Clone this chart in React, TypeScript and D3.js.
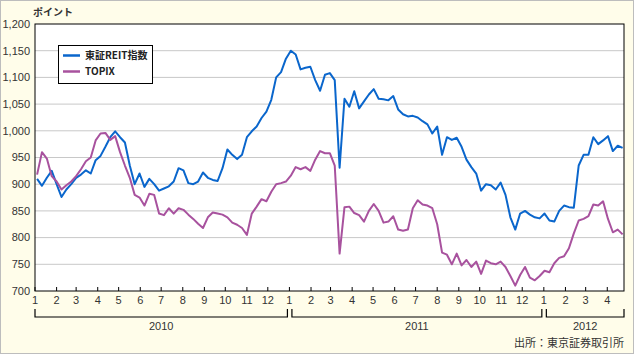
import React from 'react';
import * as d3 from 'd3';

// weekly (Monday) readings, Jan 2010 - Apr 2012
const reitValues = [
  910, 897, 912, 925, 900, 876, 890, 900, 912, 918,
  926, 920, 945, 953, 970, 988, 999, 988, 978, 935,
  900, 920, 895, 910, 900, 888, 892, 896, 905, 930,
  926, 902, 900, 905, 922, 912, 908, 906, 930, 965,
  955, 947, 955, 988, 999, 1008, 1024, 1036, 1058, 1100,
  1110, 1135, 1150, 1143, 1115, 1118, 1120, 1095, 1075, 1105,
  1108, 1095, 931, 1060, 1045, 1074, 1042, 1055, 1068, 1078,
  1060, 1059, 1057, 1065, 1040, 1031, 1027, 1028, 1025, 1018,
  1012, 995, 1008, 955, 988, 983, 987, 970, 946, 932,
  920, 888, 900, 898, 890, 903, 880, 838, 815, 845,
  850, 843, 838, 836, 845, 832, 830, 850, 860, 857,
  856, 935, 955, 955, 988, 975, 982, 990, 962, 972,
  968,
];

const topixValues = [
  918, 960, 948, 915, 905, 890, 898, 905, 915, 928,
  943, 950, 982, 995, 996, 983, 990, 960, 935, 912,
  880, 875, 860, 882, 880, 845, 842, 855, 845, 855,
  852, 843, 835, 826, 818, 838, 847, 845, 843, 838,
  828, 824, 818, 805, 845, 858, 872, 868, 886, 900,
  902, 905, 916, 932, 928, 932, 925, 946, 962, 958,
  958, 935, 770, 857, 858, 846, 842, 830, 850, 863,
  850, 828, 830, 840, 815, 813, 815, 855, 870, 862,
  860, 855, 825, 772, 768, 750, 770, 748, 758, 745,
  755, 732, 757, 752, 750, 755, 745, 728, 710, 730,
  745, 725, 720, 728, 738, 735, 752, 762, 765, 780,
  808, 832, 835, 840, 862, 860, 868, 835, 810, 815,
  806,
];

const weekDates = d3.timeMonday.range(new Date(2010, 0, 4), new Date(2012, 3, 24));
const monthTicks = d3.timeMonth.range(new Date(2010, 0, 1), new Date(2012, 4, 1));
const yTicks = [700, 750, 800, 850, 900, 950, 1000, 1050, 1100, 1150, 1200];
const years = [2010, 2011, 2012];
const seriesNames = ['東証REIT指数', 'TOPIX'];
const seriesColors = ['#0a66cc', '#a8529e'];

const W = 634;
const H = 354;
const left = 35;
const right = 624;
const top = 24;
const bottom = 291;
const numFont = '"Liberation Sans", Arial, sans-serif';
const jpFont = '"Noto Sans CJK JP", "Liberation Sans", sans-serif';

export default function App() {
  const x = d3
    .scaleTime()
    .domain([new Date(2010, 0, 1), new Date(2012, 3, 25)])
    .range([left, right]);
  const y = d3.scaleLinear().domain([700, 1200]).range([bottom, top]);

  const line = d3
    .line<number>()
    .x((_, i) => x(weekDates[i]))
    .y(d => y(d));

  const series = [reitValues, topixValues];
  const fmt = d3.format(',');

  return (
    <svg
      width={W}
      height={H}
      style={{ position: 'absolute', left: 0, top: 0 }}
    >
      <rect x={0.5} y={0.5} width={W - 1} height={H - 1} fill="#fffdea" stroke="#bdbdbd" />
      <rect x={left} y={top} width={right - left} height={bottom - top} fill="#fff" />

      {/* grid */}
      {yTicks.slice(1, -1).map(t => (
        <line key={t} x1={left} x2={right} y1={y(t)} y2={y(t)} stroke="#c8c8c8" strokeWidth={1} />
      ))}

      {/* y labels */}
      {yTicks.map(t => (
        <text
          key={t}
          x={30}
          y={y(t)}
          dy="0.35em"
          textAnchor="end"
          fontSize={11}
          fill="#333"
          fontFamily={numFont}
        >
          {fmt(t)}
        </text>
      ))}
      <text x={33} y={16} fontSize={10} fontWeight="bold" fill="#333" fontFamily={jpFont}>
        ポイント
      </text>

      {/* lines */}
      {series.map((s, i) => (
        <path
          key={i}
          d={line(s) || ''}
          fill="none"
          stroke={seriesColors[i]}
          strokeWidth={2}
          strokeLinejoin="round"
        />
      ))}

      {/* frame */}
      <rect x={left} y={top} width={right - left} height={bottom - top} fill="none" stroke="#000" strokeWidth={1} />

      {/* month ticks */}
      {monthTicks.map((m, i) => (
        <g key={i} transform={`translate(${x(m)},0)`}>
          <line y1={bottom - 4} y2={bottom} stroke="#000" />
          <text y={304} textAnchor="middle" fontSize={11} fill="#333" fontFamily={numFont}>
            {m.getMonth() + 1}
          </text>
        </g>
      ))}

      {/* year brackets */}
      {years.map((yr, i) => {
        const x0 = x(new Date(yr, 0, 1)) + (i === 0 ? 0 : 2.5);
        const x1 = Math.min(x(new Date(yr + 1, 0, 1)) - 2, right);
        return (
          <g key={yr}>
            <path
              d={`M${x0},309 V317 H${x1} V309`}
              fill="none"
              stroke="#000"
              strokeWidth={1.2}
            />
            <text
              x={(x0 + x1) / 2}
              y={330}
              textAnchor="middle"
              fontSize={11}
              fill="#333"
              fontFamily={numFont}
            >
              {yr}
            </text>
          </g>
        );
      })}

      <text x={624} y={347} textAnchor="end" fontSize={11} fill="#333" fontFamily={jpFont}>
        出所：東京証券取引所
      </text>

      {/* legend */}
      <rect x={58.5} y={45.5} width={94} height={38} fill="#fff" stroke="#000" />
      {seriesNames.map((n, i) => (
        <g key={n} transform={`translate(0,${55.5 + i * 16})`}>
          <line x1={63} x2={80} stroke={seriesColors[i]} strokeWidth={2.5} />
          <text x={85} dy="0.35em" fontSize={10} fontWeight="bold" fill="#222" fontFamily={jpFont}>
            {n}
          </text>
        </g>
      ))}
    </svg>
  );
}
